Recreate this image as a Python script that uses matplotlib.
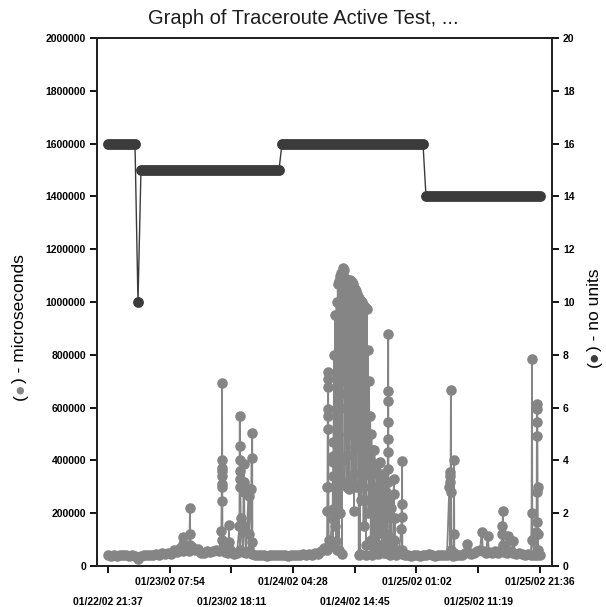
import numpy as np
import pandas as pd
import matplotlib
matplotlib.use('Agg')
import matplotlib.pyplot as plt

# traceroute test, first sample 01/22/02 21:37
start = pd.Timestamp('2002-01-22 21:37')

# regular samples every 30 minutes (hours since start)
grid_hours = np.arange(145) * 0.5

# round trip time, microseconds, at each regular sample
latency_grid = [
    40000, 38000, 42000, 39000, 41000, 43000, 40000, 38000, 42000, 37000,
    26000, 39000, 42000, 40000, 43000, 41000, 45000, 42000, 48000, 44000,
    50000, 46000, 60000, 52000, 70000, 58000, 66000, 55000, 72000, 60000,
    64000, 50000, 48000, 55000, 52000, 58000, 62000, 56000, 66000, 52000,
    48000, 55000, 46000, 50000, 60000, 52000, 48000, 56000, 45000, 42000,
    40000, 43000, 41000, 39000, 42000, 40000, 41000, 43000, 40000, 42000,
    39000, 41000, 43000, 40000, 42000, 45000, 41000, 44000, 42000, 48000,
    45000, 55000, 70000, 60000, 85000, 75000, 95000, 60000, 45000, 650000,
    420000, 780000, 350000, 900000, 45000, 300000, 40000, 250000, 42000, 180000,
    45000, 260000, 48000, 120000, 40000, 90000, 42000, 60000, 44000, 40000,
    42000, 38000, 41000, 43000, 39000, 42000, 40000, 44000, 41000, 39000,
    42000, 40000, 43000, 41000, 45000, 38000, 42000, 40000, 43000, 48000,
    52000, 45000, 50000, 58000, 62000, 55000, 50000, 52000, 48000, 55000,
    50000, 60000, 52000, 48000, 55000, 50000, 46000, 48000, 44000, 42000,
    45000, 40000, 43000, 41000, 40000,
]

# hop count at each regular sample
hop_count = [
    16, 16, 16, 16, 16, 16, 16, 16, 16, 16,
    10, 15, 15, 15, 15, 15, 15, 15, 15, 15,
    15, 15, 15, 15, 15, 15, 15, 15, 15, 15,
    15, 15, 15, 15, 15, 15, 15, 15, 15, 15,
    15, 15, 15, 15, 15, 15, 15, 15, 15, 15,
    15, 15, 15, 15, 15, 15, 15, 15, 16, 16,
    16, 16, 16, 16, 16, 16, 16, 16, 16, 16,
    16, 16, 16, 16, 16, 16, 16, 16, 16, 16,
    16, 16, 16, 16, 16, 16, 16, 16, 16, 16,
    16, 16, 16, 16, 16, 16, 16, 16, 16, 16,
    16, 16, 16, 16, 16, 16, 14, 14, 14, 14,
    14, 14, 14, 14, 14, 14, 14, 14, 14, 14,
    14, 14, 14, 14, 14, 14, 14, 14, 14, 14,
    14, 14, 14, 14, 14, 14, 14, 14, 14, 14,
    14, 14, 14, 14, 14,
]

# extra samples taken around the spikes
spike_hours = [
    12.42, 12.46,
    13.60, 13.67, 13.72,
    18.90, 18.93, 18.95, 18.97, 18.98, 18.99, 19.01, 19.03, 19.05, 19.08,
    20.10, 20.17, 20.22,
    21.90, 21.93, 21.95, 21.97, 22.02, 22.05, 22.08, 22.12,
    22.60, 22.65, 22.70, 22.75,
    23.45, 23.52, 23.56,
    23.90, 23.95, 24.03, 24.07,
    36.55, 36.58, 36.60, 36.62, 36.64, 36.66, 36.68, 36.70, 36.74, 36.78,
    37.42, 37.45, 37.48, 37.52, 37.55, 37.58,
    44.2, 44.25, 44.3, 44.4, 44.45, 44.6, 44.65, 44.7, 44.8, 44.85,
    44.9, 45.05, 45.1, 45.2, 45.25, 45.3, 45.4, 45.45, 45.6, 45.65,
    45.7, 45.8, 45.85, 45.9, 46.05, 46.1, 46.2, 46.25, 46.3, 46.4, 46.45,
    46.60, 46.62, 46.64, 46.65, 46.66, 46.67, 46.68, 46.70, 46.75,
    46.8, 46.9, 47.1, 47.2,
    47.60, 47.67, 47.72, 47.8, 47.9,
    48.90, 48.93, 48.96, 49.02, 49.06,
    56.90, 56.95, 57.00, 57.05, 57.10, 57.15, 57.20,
    57.60, 57.67, 57.72,
    59.80, 62.30, 63.30,
    65.70, 65.75, 65.83, 65.90,
    66.60, 67.50,
    70.60, 70.67, 70.72,
    71.40, 71.43, 71.45, 71.48, 71.50, 71.52, 71.55, 71.60, 71.65, 71.70,
]
spike_us = [
    84000, 108000,
    120000, 220000, 80000,
    133000, 245000, 310000, 340000, 370000, 400000, 693000, 360000, 300000, 100000,
    90000, 155000, 70000,
    150000, 330000, 455000, 568000, 400000, 360000, 300000, 180000,
    318000, 386000, 280000, 150000,
    290000, 265000, 120000,
    290000, 409000, 503000, 90000,
    208000, 300000, 519000, 568000, 595000, 678000, 708000, 735000, 300000, 100000,
    178000, 215000, 341000, 394000, 417000, 470000,
    380000, 200000, 60000, 440000, 250000, 300000, 180000, 50000, 350000, 220000,
    120000, 260000, 390000, 80000, 240000, 394000, 200000, 150000, 350000, 230000,
    60000, 330000, 200000, 150000, 250000, 310000, 90000, 180000, 280000, 50000, 200000,
    318000, 367000, 432000, 481000, 545000, 625000, 663000, 879000, 200000,
    250000, 70000, 220000, 60000,
    273000, 330000, 100000, 180000, 50000,
    140000, 186000, 235000, 398000, 60000,
    300000, 340000, 356000, 320000, 280000, 667000, 60000,
    120000, 401000, 50000,
    83000, 129000, 114000,
    121000, 151000, 210000, 80000,
    114000, 95000,
    200000, 784000, 100000,
    129000, 167000, 280000, 492000, 545000, 595000, 613000, 300000, 120000, 60000,
]

# the burst on 01/24 evening, sampled every 6 minutes from hour 37.7
burst_hours = 37.7 + np.arange(65) * 0.1
burst_us = [
    800000, 150000, 950000, 300000, 1000000, 60000, 1070000, 500000, 1080000, 200000,
    1100000, 700000, 1110000, 400000, 1130000, 900000, 1120000, 320000, 1090000, 600000,
    1060000, 300000, 1080000, 850000, 1070000, 290000, 1085000, 500000, 1080000, 320000,
    1075000, 700000, 1070000, 210000, 1050000, 450000, 1040000, 300000, 1030000, 800000,
    1020000, 40000, 1015000, 600000, 1005000, 250000, 1000000, 700000, 990000, 150000,
    985000, 500000, 980000, 80000, 975000, 350000, 820000, 200000, 700000, 400000,
    570000, 100000, 500000, 300000, 440000,
]

tick_labels = ['01/22/02 21:37', '01/23/02 07:54', '01/23/02 18:11', '01/24/02 04:28',
               '01/24/02 14:45', '01/25/02 01:02', '01/25/02 11:19', '01/25/02 21:36']

lat_color = '#858585'
hop_color = '#3b3b3b'
tick_font = ['Liberation Sans', 'DejaVu Sans']
text_font = ['Liberation Sans', 'DejaVu Sans']

# merge all latency samples in time order
hours = np.concatenate([grid_hours, spike_hours, burst_hours])
values = np.concatenate([latency_grid, spike_us, burst_us])
order = np.argsort(hours, kind='stable')
lat_times = start + pd.to_timedelta(hours[order], unit='h')
lat_values = values[order]
hop_times = start + pd.to_timedelta(grid_hours, unit='h')

fig = plt.figure(figsize=(6.06, 6.07), dpi=100)
ax = fig.add_axes([97 / 606, 1 - 566 / 607, 455 / 606, 528 / 607])
ax2 = ax.twinx()

ax.plot(lat_times, lat_values, color=lat_color, lw=1.3, marker='o', ms=7.6,
        mec=lat_color, mfc=lat_color, mew=0)
ax2.plot(hop_times, hop_count, color=hop_color, lw=1.0, marker='o', ms=7.8,
         mec=hop_color, mfc=hop_color, mew=0)

ax.set_ylim(0, 2000000)
ax2.set_ylim(0, 20)
ax.set_yticks(np.arange(0, 2000001, 200000))
ax.set_yticklabels([str(v) for v in range(0, 2000001, 200000)])
ax2.set_yticks(np.arange(0, 21, 2))

ax.set_xlim(start + pd.Timedelta(hours=-1.83), start + pd.Timedelta(hours=74.0))
tick_pos = pd.to_datetime(tick_labels, format='%m/%d/%y %H:%M')
ax.set_xticks(tick_pos)
ax.set_xticklabels(tick_labels)

for a in (ax, ax2):
    a.tick_params(direction='out', length=5, width=1.3, color='black', pad=3)
    for lbl in a.get_xticklabels() + a.get_yticklabels():
        lbl.set_fontfamily(tick_font)
        lbl.set_fontweight('bold')
        lbl.set_fontsize(7.5)
    for s in a.spines.values():
        s.set_linewidth(1.4)
        s.set_color('#222222')

# alternate the date labels over two rows
for i, tk in enumerate(ax.xaxis.get_major_ticks()):
    tk.set_pad(3 if i % 2 else 17)

fig.text(0.5, 1 - 18 / 607, 'Graph of Traceroute Active Test, ...', ha='center', va='center',
         fontsize=14.5, family=text_font, color='#1e1e1e')


def side_label(x, y_mid, pieces):
    # stack text pieces bottom to top so the marker dot can take the series colour
    renderer = fig.canvas.get_renderer()
    texts = []
    sizes = []
    for s, c in pieces:
        t = fig.text(0, 0, s, rotation=90, color=c, fontsize=12.5, ha='center', va='bottom',
                     family=text_font)
        sizes.append(t.get_window_extent(renderer).height)
        texts.append(t)
    h = fig.bbox.height
    y = y_mid * h - sum(sizes) / 2
    for t, sz in zip(texts, sizes):
        t.set_position((x, y / h))
        y += sz


side_label(20 / 606, 1 - 327 / 607, [('(', 'black'), ('\u25cf', lat_color),
                                     (') - microseconds', 'black')])
side_label(594 / 606, 1 - 318 / 607, [('(', 'black'), ('\u25cf', hop_color),
                                      (') - no units', 'black')])

fig.savefig('out.png', dpi=100)
